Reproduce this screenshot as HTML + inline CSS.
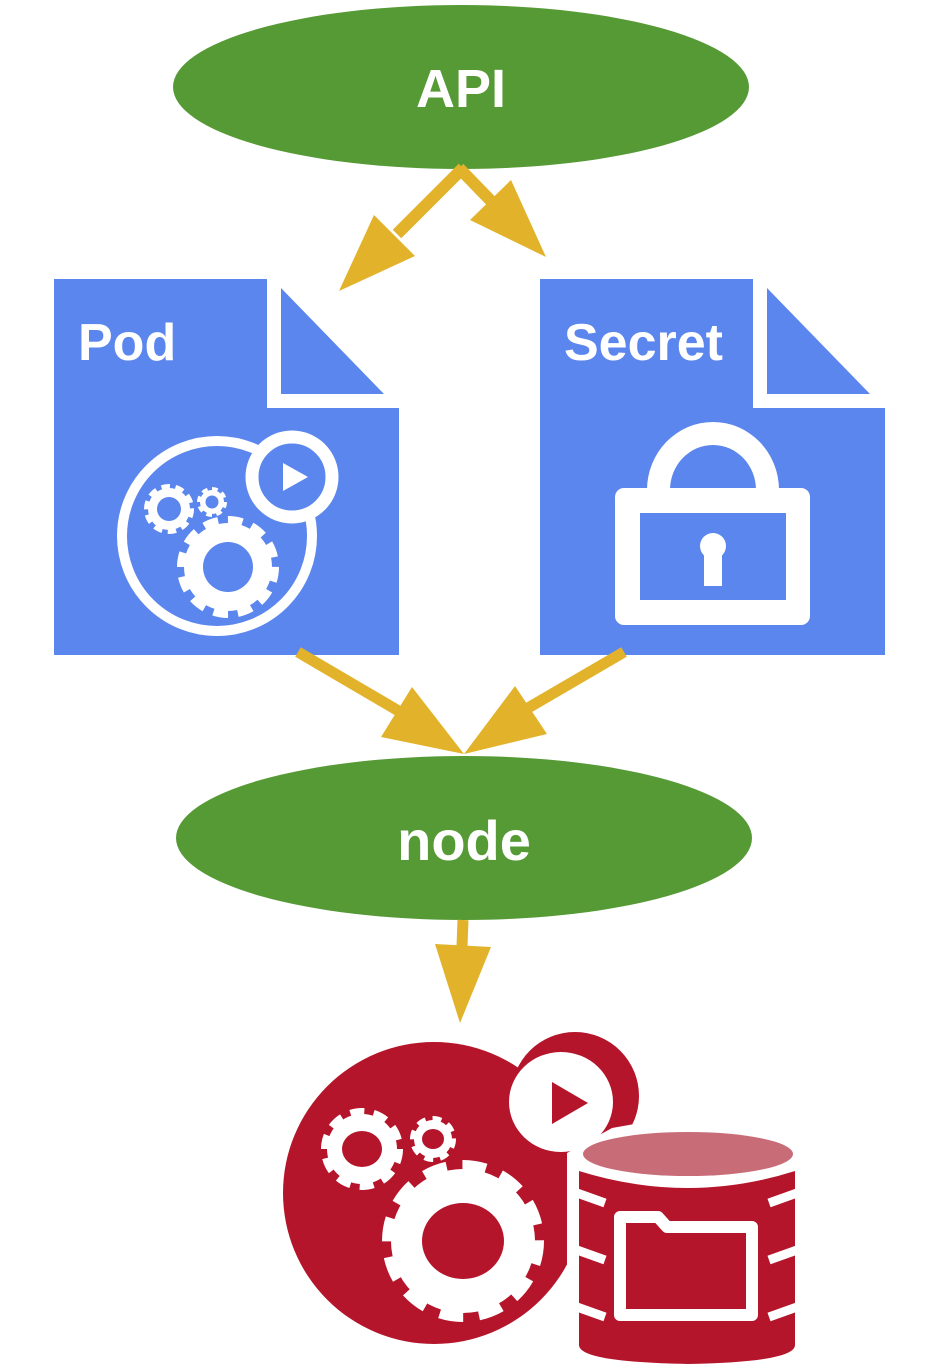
<!DOCTYPE html>
<html><head><meta charset="utf-8"><style>
html,body{margin:0;padding:0;background:#fff;}
svg{display:block;}
text{font-family:"Liberation Sans",sans-serif;font-weight:bold;fill:#fff;}
</style></head><body>
<svg width="930" height="1369" viewBox="0 0 930 1369" xmlns="http://www.w3.org/2000/svg">
<!-- API -->
<ellipse cx="461" cy="87" rx="288" ry="82" fill="#569a36"/>
<text x="461" y="107" font-size="54" text-anchor="middle">API</text>
<!-- top arrows -->
<g fill="#e2b32a" stroke="#e2b32a">
<line x1="463" y1="168" x2="397" y2="234" stroke-width="12"/>
<polygon points="374,215 415,256 339,291" stroke="none"/>
<line x1="459" y1="168" x2="492" y2="202" stroke-width="12"/>
<polygon points="470,220 511,180 546,257" stroke="none"/>
</g>
<!-- Pod doc -->
<polygon points="54,279 267,279 267,408 399,408 399,655 54,655" fill="#5b86ee"/>
<polygon points="281,288 281,394 384,394" fill="#5b86ee"/>
<text x="78" y="360" font-size="52">Pod</text>
<circle cx="217" cy="536" r="95" fill="none" stroke="#fff" stroke-width="10"/>
<circle cx="292" cy="477" r="40" fill="#5b86ee" stroke="#fff" stroke-width="13"/>
<polygon points="283,463 283,491 308,477" fill="#fff"/>
<!-- pod gears -->
<circle cx="228" cy="567" r="44" fill="#fff"/>
<circle cx="228" cy="567" r="46" fill="none" stroke="#fff" stroke-width="10" pathLength="100" stroke-dasharray="5 3.33"/>
<circle cx="228" cy="567" r="25" fill="#5b86ee"/>
<circle cx="169" cy="509" r="21" fill="#fff"/>
<circle cx="169" cy="509" r="22" fill="none" stroke="#fff" stroke-width="6" pathLength="100" stroke-dasharray="6 4"/>
<circle cx="169" cy="509" r="12" fill="#5b86ee"/>
<circle cx="212" cy="502" r="12" fill="#fff"/>
<circle cx="212" cy="502" r="13" fill="none" stroke="#fff" stroke-width="4" pathLength="100" stroke-dasharray="7 5.5"/>
<circle cx="212" cy="502" r="6.5" fill="#5b86ee"/>
<!-- Secret doc -->
<polygon points="540,279 753,279 753,408 885,408 885,655 540,655" fill="#5b86ee"/>
<polygon points="767,288 767,394 870,394" fill="#5b86ee"/>
<text x="564" y="360" font-size="52">Secret</text>
<path d="M647,490 A66,68 0 0 1 779,490 L756,490 A43,45 0 0 0 670,490 Z" fill="#fff"/>
<rect x="615" y="488" width="195" height="137" rx="9" fill="#fff"/>
<rect x="640" y="513" width="146" height="87" fill="#5b86ee"/>
<circle cx="713" cy="546" r="13" fill="#fff"/>
<rect x="704" y="548" width="18" height="38" fill="#fff"/>
<!-- middle arrows -->
<g fill="#e2b32a" stroke="#e2b32a">
<line x1="298" y1="652" x2="402" y2="713" stroke-width="11"/>
<polygon points="381,737 412,687 464,754" stroke="none"/>
<line x1="624" y1="652" x2="528" y2="708" stroke-width="11"/>
<polygon points="515,686 547,734 464,754" stroke="none"/>
</g>
<!-- node -->
<ellipse cx="464" cy="838" rx="288" ry="82" fill="#569a36"/>
<text x="464" y="860" font-size="56" text-anchor="middle">node</text>
<line x1="463" y1="920" x2="462" y2="946" stroke="#e2b32a" stroke-width="11"/>
<polygon points="435,944 491,947 460,1023" fill="#e2b32a"/>
<!-- bottom red icon -->
<circle cx="434" cy="1193" r="151" fill="#b5152b"/>
<circle cx="575" cy="1096" r="64" fill="#b5152b"/>
<polygon points="567,1153 612,1128 640,1123 640,1369 567,1369" fill="#fff"/>
<rect x="567" y="1153" width="260" height="216" fill="#fff"/>
<ellipse cx="561" cy="1102" rx="52" ry="50" fill="#fff"/>
<polygon points="552,1082 552,1124 588,1103" fill="#b5152b"/>
<!-- red gears -->
<circle cx="463" cy="1241" r="72" fill="#fff"/>
<circle cx="463" cy="1241" r="74" fill="none" stroke="#fff" stroke-width="14" pathLength="100" stroke-dasharray="5 3.33"/>
<ellipse cx="463" cy="1241" rx="41" ry="38" fill="#b5152b"/>
<circle cx="362" cy="1149" r="35" fill="#fff"/>
<circle cx="362" cy="1149" r="37" fill="none" stroke="#fff" stroke-width="8" pathLength="100" stroke-dasharray="6 4"/>
<ellipse cx="362" cy="1149" rx="20" ry="18" fill="#b5152b"/>
<circle cx="433" cy="1139" r="19" fill="#fff"/>
<circle cx="433" cy="1139" r="20" fill="none" stroke="#fff" stroke-width="6" pathLength="100" stroke-dasharray="7 5.5"/>
<ellipse cx="433" cy="1139" rx="11" ry="10" fill="#b5152b"/>
<!-- cylinder -->
<ellipse cx="688" cy="1154" rx="105" ry="22" fill="#c86c78"/>
<path d="M579,1171 Q688,1205 795,1171 L795,1345 Q795,1362 688,1364 Q579,1362 579,1345 Z" fill="#b5152b"/>
<g stroke="#fff" stroke-width="9">
<line x1="577" y1="1193" x2="605" y2="1203"/>
<line x1="577" y1="1250" x2="605" y2="1260"/>
<line x1="577" y1="1307" x2="605" y2="1317"/>
<line x1="797" y1="1193" x2="769" y2="1203"/>
<line x1="797" y1="1250" x2="769" y2="1260"/>
<line x1="797" y1="1307" x2="769" y2="1317"/>
</g>
<path d="M620,1217 L658,1217 L667,1227 L752,1227 L752,1315 L620,1315 Z" fill="#b5152b" stroke="#fff" stroke-width="12" stroke-linejoin="round"/>
</svg>
</body></html>
